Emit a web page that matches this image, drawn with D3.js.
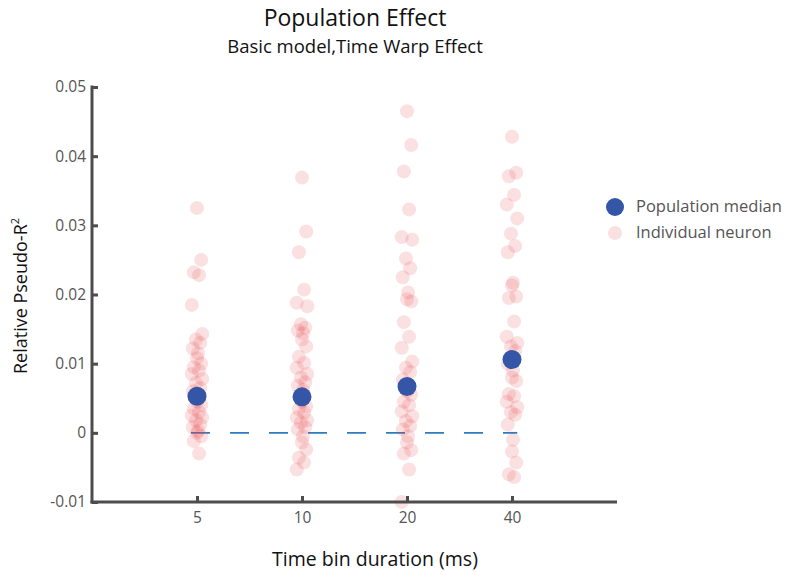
<!DOCTYPE html>
<html><head><meta charset="utf-8">
<script src="https://cdn.jsdelivr.net/npm/d3@7"></script>
<style>body{margin:0;background:#fff}</style>
</head><body>
<svg id="c" width="793" height="577"></svg>
<script>
const categories = ["5", "10", "20", "40"];
const neurons5 = [0.0325,0.025,0.0232,0.0228,0.0185,0.0143,0.0135,0.013,0.0122,0.0115,0.0108,0.0100,0.0095,0.009,0.0085,0.0078,0.0072,0.0065,0.006,0.0055,0.0045,0.004,0.0035,0.003,0.0025,0.0022,0.0018,0.0012,0.0008,0.0003,0.0,-0.0005,-0.0012,-0.003];
const neurons10 = [0.0369,0.0291,0.0261,0.0207,0.0188,0.0183,0.0157,0.0152,0.0148,0.0144,0.0135,0.0125,0.0110,0.0101,0.0094,0.0085,0.0080,0.0073,0.0068,0.0062,0.0045,0.0038,0.0034,0.0029,0.0022,0.0018,0.0015,0.0008,0.0005,-0.0005,-0.0014,-0.0024,-0.0036,-0.0043,-0.0053];
const neurons20 = [0.0465,0.0416,0.0378,0.0323,0.0283,0.0279,0.0252,0.0238,0.0225,0.0203,0.0193,0.0190,0.0160,0.0139,0.0123,0.0103,0.0094,0.0088,0.0077,0.0070,0.0060,0.0055,0.0045,0.0040,0.0031,0.0024,0.0017,0.0010,0.0005,-0.0005,-0.0014,-0.0025,-0.0030,-0.0053,-0.0100];
const neurons40 = [0.0428,0.0376,0.0371,0.0344,0.0330,0.0310,0.0288,0.0270,0.0261,0.0217,0.0213,0.0197,0.0195,0.0161,0.0139,0.0130,0.0125,0.0118,0.0100,0.0090,0.0080,0.0075,0.0056,0.0053,0.0045,0.0037,0.0030,0.0026,0.0012,-0.0010,-0.0027,-0.0043,-0.0060,-0.0064];
const medians = [0.0053, 0.0052, 0.0067, 0.0106];
const yTicks = [-0.01, 0, 0.01, 0.02, 0.03, 0.04, 0.05];
const yTickLabels = ["-0.01", "0", "0.01", "0.02", "0.03", "0.04", "0.05"];
const jitterPattern = [0, 0.04, -0.03, 0.02, -0.05, 0.05, -0.01, 0.03, -0.04, 0.01];

const svg = d3.select("#c");
const font = "'Open Sans', 'Noto Sans', sans-serif";
const x = d3.scaleLinear().domain([0, 5]).range([92, 617]);
const y = d3.scaleLinear().domain([-0.01, 0.05]).range([502, 87]);
const axisColor = "#4d4d4d";

// titles
svg.append("text").attr("x", 355).attr("y", 26).attr("text-anchor", "middle")
  .attr("font-family", font).attr("font-size", 23).attr("fill", "#111").text("Population Effect");
svg.append("text").attr("x", 355).attr("y", 53).attr("text-anchor", "middle")
  .attr("font-family", font).attr("font-size", 18.5).attr("fill", "#111").text("Basic model,Time Warp Effect");

// dashed zero line
svg.append("line").attr("x1", x(0.943)).attr("x2", x(4.05)).attr("y1", y(0)).attr("y2", y(0))
  .attr("stroke", "#2f7bbf").attr("stroke-width", 1.8).attr("stroke-dasharray", "19,20");

// neurons
const all = [neurons5, neurons10, neurons20, neurons40];
const gN = svg.append("g");
all.forEach((arr, ci) => {
  gN.selectAll(null).data(arr).enter().append("circle")
    .attr("cx", (d, i) => x(ci + 1 + jitterPattern[i % jitterPattern.length]))
    .attr("cy", d => y(d)).attr("r", 7)
    .attr("fill", "#e63c46").attr("fill-opacity", 0.16);
});

// axes
const yAxis = d3.axisLeft(y).tickValues(yTicks).tickFormat((d, i) => yTickLabels[i]).tickSize(-6).tickPadding(6);
const gy = svg.append("g").attr("transform", `translate(${x(0)},0)`).call(yAxis);
const xAxis = d3.axisBottom(x).tickValues([1, 2, 3, 4]).tickFormat((d, i) => categories[i]).tickSize(-6).tickPadding(10);
const gx = svg.append("g").attr("transform", `translate(0,${y(-0.01)})`).call(xAxis);
[gx, gy].forEach(g => {
  g.select(".domain").attr("stroke", axisColor).attr("stroke-width", 3);
  g.selectAll(".tick line").attr("stroke", axisColor).attr("stroke-width", 3);
  g.selectAll(".tick text").attr("fill", "#555").attr("font-family", font).attr("font-size", 15.5);
});
gx.select(".domain").attr("d", `M${x(0)-1.5},0H${x(5)}`);
gy.select(".domain").attr("d", `M0,${y(0.05)-1.5}V${y(-0.01)+1.5}`);

// medians
svg.selectAll(".med").data(medians).enter().append("circle")
  .attr("cx", (d, i) => x(i + 1)).attr("cy", d => y(d)).attr("r", 9.5).attr("fill", "#3556a6");

// axis labels
svg.append("text").attr("x", 375).attr("y", 566).attr("text-anchor", "middle")
  .attr("font-family", font).attr("font-size", 19.5).attr("fill", "#111").text("Time bin duration (ms)");
const yl = svg.append("text").attr("transform", "translate(27,296) rotate(-90)").attr("text-anchor", "middle")
  .attr("font-family", font).attr("font-size", 18).attr("fill", "#111");
yl.append("tspan").text("Relative Pseudo-R");
yl.append("tspan").attr("font-size", 11).attr("dy", -8).text("2");

// legend
const lg = svg.append("g");
lg.append("circle").attr("cx", 615).attr("cy", 207).attr("r", 9).attr("fill", "#3556a6");
lg.append("circle").attr("cx", 615).attr("cy", 233).attr("r", 7).attr("fill", "#e63c46").attr("fill-opacity", 0.16);
lg.append("text").attr("x", 636).attr("y", 212).attr("font-family", font).attr("font-size", 16.5).attr("fill", "#555").text("Population median");
lg.append("text").attr("x", 636).attr("y", 238).attr("font-family", font).attr("font-size", 16.5).attr("fill", "#555").text("Individual neuron");
</script>
</body></html>
